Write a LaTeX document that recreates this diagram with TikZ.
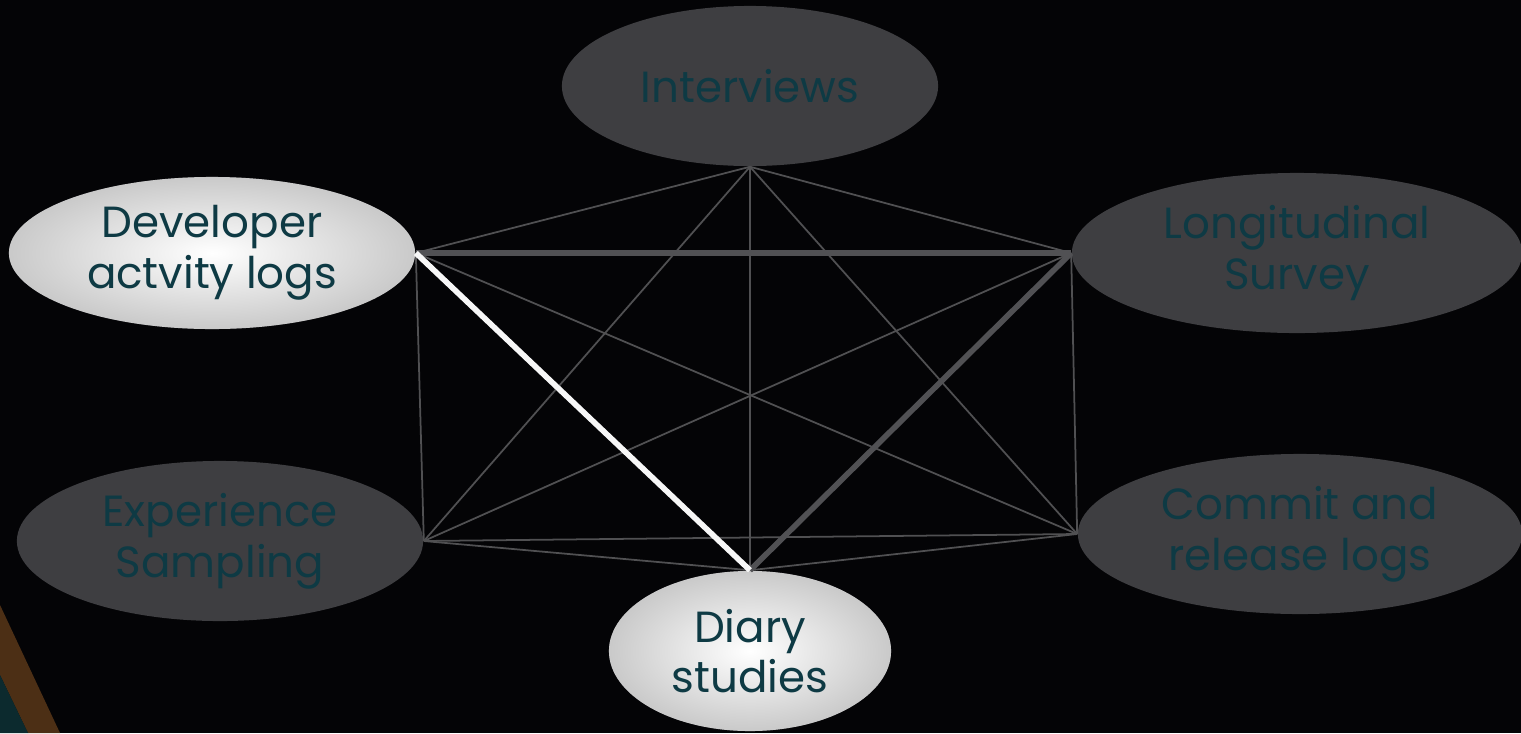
\documentclass[tikz,border=0pt]{standalone}
\usepackage{fontspec}
\setmainfont{Poppins}
\usetikzlibrary{shapes.geometric}
\usetikzlibrary{positioning}

\definecolor{bgblack}{HTML}{040406}
\definecolor{ovalgray}{HTML}{3E3E41}
\definecolor{inkteal}{HTML}{0E3A44}
\definecolor{linkgray}{HTML}{505052}
\definecolor{barkbrown}{HTML}{4C2F15}
\definecolor{deepteal}{HTML}{0C2A2E}

\begin{document}
\begin{tikzpicture}[x=0.01cm,y=-0.01cm]
\tikzset{
  method/.style={
           ellipse,
           fill=ovalgray,
           text=inkteal,
           inner sep=0pt,
           align=center,
           font=\fontsize{12.4}{14.4}\selectfont,
           },
  picked/.style={
           method,
           shading=radial,
           inner color=white,
           outer color=gray!42,
           },
  link/.style={
           color=linkgray,
           line width=0.5pt,
           },
  boldlink/.style={
           color=ovalgray!90!white,
           line width=1.6pt,
           },
  whitelink/.style={
           color=white!94!gray,
           line width=1.6pt,
           }
           }
% background
\fill[bgblack] (0,0) rectangle (1521,733);
\useasboundingbox (0,0) rectangle (1521,733);
% corner piece
\fill[barkbrown] (0,605) -- (60,733) -- (28,733) -- (0,675) -- cycle;
\fill[deepteal] (0,675) -- (28,733) -- (0,733) -- cycle;
%==========================================
\node[method, minimum width=3.76cm, minimum height=1.6cm] (intv) at (750,86) {Interviews};
\node[picked, minimum width=4.06cm, minimum height=1.52cm] (devlog) at (212,253) {Developer\\actvity logs};
\node[method, minimum width=4.5cm, minimum height=1.6cm] (survey) at (1297,253) {Longitudinal\\Survey};
\node[method, minimum width=4.06cm, minimum height=1.6cm] (esm) at (220,541) {Experience\\Sampling};
\node[method, minimum width=4.44cm, minimum height=1.6cm] (commit) at (1300,534) {Commit and\\release logs};
\node[picked, minimum width=2.82cm, minimum height=1.6cm] (diary) at (750,651) {Diary\\studies};
%==========================================
\draw[link] (intv.south) -- (devlog.east);
\draw[link] (intv.south) -- (survey.west);
\draw[link] (intv.south) -- (esm.east);
\draw[link] (intv.south) -- (commit.west);
\draw[link] (intv.south) -- (diary.north);
\draw[link] (devlog.east) -- (esm.east);
\draw[link] (devlog.east) -- (commit.west);
\draw[link] (survey.west) -- (esm.east);
\draw[link] (survey.west) -- (commit.west);
\draw[link] (esm.east) -- (commit.west);
\draw[link] (esm.east) -- (diary.north);
\draw[link] (commit.west) -- (diary.north);
\draw[boldlink] (devlog.east) -- (survey.west);
\draw[boldlink] (survey.west) -- (diary.north);
\draw[whitelink] (devlog.east) -- (diary.north);
\end{tikzpicture}
\end{document}
